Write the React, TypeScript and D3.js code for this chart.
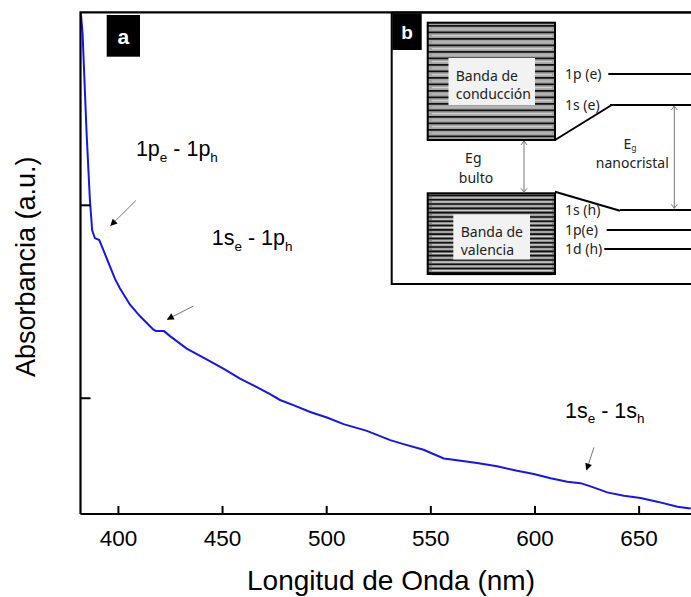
import React, { useEffect, useRef } from 'react';
import * as d3 from 'd3';

// absorption spectrum
const wavelength = [381.8, 382.8, 384.7, 386.3, 387.4, 388.7, 390.8, 392.7, 395.9, 398.3,
  400.7, 405.5, 410.3, 416.7, 418.0, 421.9, 424.8, 432.8, 440.8, 450.4,
  458.4, 464.8, 472.8, 477.6, 484.0, 492.1, 500.1, 508.1, 519.3, 530.5,
  536.9, 546.5, 556.2, 562.6, 572.2, 581.8, 591.4, 599.4, 607.5, 615.5,
  621.9, 626.7, 634.7, 642.7, 650.7, 658.7, 668.4, 674.8];
const absorbance = [3.02, 2.89, 2.38, 2.03, 1.87, 1.83, 1.82, 1.77, 1.685, 1.62,
  1.57, 1.486, 1.426, 1.357, 1.348, 1.348, 1.322, 1.257, 1.211, 1.154,
  1.102, 1.067, 1.021, 0.991, 0.964, 0.929, 0.900, 0.866, 0.831, 0.783,
  0.762, 0.733, 0.688, 0.679, 0.664, 0.647, 0.624, 0.607, 0.585, 0.567,
  0.560, 0.543, 0.512, 0.495, 0.483, 0.464, 0.438, 0.429];

const xTicks = [400, 450, 500, 550, 600, 650];
const yTicks = [1, 2];

// transition labels: [main, sub, main, sub]
const transitions = [
  { parts: ['1p', 'e', ' - 1p', 'h'], at: [408.4, 2.254], from: [408.4, 2.025], to: [396.3, 1.895] },
  { parts: ['1s', 'e', ' - 1p', 'h'], at: [444.8, 1.792], from: [436.0, 1.478], to: [423.5, 1.409] },
  { parts: ['1s', 'e', ' - 1s', 'h'], at: [614.4, 0.900], from: [628.3, 0.745], to: [624.8, 0.629] },
];

const levelsCB = ['1p (e)', '1s (e)'];
const levelsVB = ['1s (h)', '1p(e)', '1d (h)'];

const SANS = 'Liberation Sans, Arial, sans-serif';
const INSET = 'Noto Sans, Open Sans, sans-serif';

export default function App() {
  const ref = useRef<SVGSVGElement | null>(null);

  useEffect(() => {
    const svg = d3.select(ref.current);
    svg.selectAll('*').remove();

    const x = d3.scaleLinear().domain([381.8, 675]).range([80.5, 691.2]);
    const y = d3.scaleLinear().domain([0.4, 3]).range([514, 12.4]);

    svg.append('defs').append('clipPath').attr('id', 'plot')
      .append('rect').attr('x', 80).attr('y', 12.4).attr('width', 620).attr('height', 502);

    svg.append('defs').append('marker')
      .attr('id', 'head').attr('viewBox', '0 0 10 10').attr('refX', 9).attr('refY', 5)
      .attr('markerWidth', 9).attr('markerHeight', 7).attr('markerUnits', 'userSpaceOnUse')
      .attr('orient', 'auto')
      .append('path').attr('d', 'M0,0 L10,5 L0,10 z').attr('fill', '#000');

    const pts = wavelength.map((w, i) => [w, absorbance[i]] as [number, number]);
    const line = d3.line<[number, number]>().x(d => x(d[0])).y(d => y(d[1]));
    svg.append('path')
      .attr('d', line(pts))
      .attr('clip-path', 'url(#plot)')
      .attr('fill', 'none')
      .attr('stroke', '#1515f0')
      .attr('stroke-width', 2);

    // frame: left, bottom, top
    const axisY = 514;
    svg.append('path')
      .attr('d', `M${x(381.8)},${axisY} L${x(381.8)},12.4 L700,12.4 M${x(381.8)},${axisY} L700,${axisY}`)
      .attr('fill', 'none').attr('stroke', '#000').attr('stroke-width', 2.2);

    svg.append('g').selectAll('line').data(xTicks).enter().append('line')
      .attr('x1', d => x(d)).attr('x2', d => x(d))
      .attr('y1', axisY).attr('y2', axisY - 8)
      .attr('stroke', '#000').attr('stroke-width', 2);
    svg.append('g').selectAll('text').data(xTicks).enter().append('text')
      .attr('x', d => x(d)).attr('y', 545.5)
      .attr('text-anchor', 'middle')
      .attr('font-family', SANS).attr('font-size', 22.5)
      .text(d => d);

    svg.append('g').selectAll('line').data(yTicks).enter().append('line')
      .attr('x1', x(381.8)).attr('x2', x(381.8) + 10)
      .attr('y1', d => y(d)).attr('y2', d => y(d))
      .attr('stroke', '#000').attr('stroke-width', 2);

    svg.append('text')
      .attr('x', 391).attr('y', 590)
      .attr('text-anchor', 'middle')
      .attr('font-family', SANS).attr('font-size', 28)
      .text('Longitud de Onda (nm)');
    svg.append('text')
      .attr('transform', 'translate(35,266.7) rotate(-90)')
      .attr('text-anchor', 'middle')
      .attr('font-family', SANS).attr('font-size', 27)
      .text('Absorbancia (a.u.)');

    // panel label a
    svg.append('rect').attr('x', 106.7).attr('y', 15).attr('width', 33.3).attr('height', 41.7).attr('fill', '#000');
    svg.append('text').attr('x', 123.3).attr('y', 44).attr('text-anchor', 'middle')
      .attr('font-family', SANS).attr('font-weight', 'bold').attr('font-size', 21).attr('fill', '#fff').text('a');

    // transitions
    transitions.forEach(t => {
      const txt = svg.append('text')
        .attr('x', x(t.at[0])).attr('y', y(t.at[1]))
        .attr('font-family', SANS).attr('font-size', 21.5).attr('fill', '#000');
      txt.append('tspan').text(t.parts[0]);
      txt.append('tspan').attr('font-size', 13.5).attr('dy', 5.5).text(t.parts[1]);
      txt.append('tspan').attr('dy', -5.5).text(t.parts[2]);
      txt.append('tspan').attr('font-size', 13.5).attr('dy', 5.5).text(t.parts[3]);
      svg.append('line')
        .attr('x1', x(t.from[0])).attr('y1', y(t.from[1]))
        .attr('x2', x(t.to[0])).attr('y2', y(t.to[1]))
        .attr('stroke', '#777').attr('stroke-width', 1)
        .attr('marker-end', 'url(#head)');
    });

    // ---- inset b: band diagram ----
    const ins = svg.append('g');
    ins.append('rect').attr('x', 391.7).attr('y', 12.7).attr('width', 330).attr('height', 271.3)
      .attr('fill', '#fff').attr('stroke', '#000').attr('stroke-width', 2);
    ins.append('rect').attr('x', 392.3).attr('y', 13.3).attr('width', 29.4).attr('height', 36.7).attr('fill', '#000');
    ins.append('text').attr('x', 407).attr('y', 38.5).attr('text-anchor', 'middle')
      .attr('font-family', SANS).attr('font-weight', 'bold').attr('font-size', 19).attr('fill', '#fff').text('b');

    const band = (y0: number, y1: number, step: number, dark: boolean) => {
      const g = ins.append('g');
      g.append('rect').attr('x', 427.7).attr('y', y0).attr('width', 127.3).attr('height', y1 - y0)
        .attr('fill', dark ? '#8a8a8a' : '#a3a3a3');
      d3.range(y0 + step / 2, y1 - 1, step).forEach((yy, i) => {
        g.append('line').attr('x1', 428).attr('x2', 555).attr('y1', yy).attr('y2', yy)
          .attr('stroke', '#111').attr('stroke-width', dark ? 1.6 : 1.8);
        g.append('line').attr('x1', 432).attr('x2', 552).attr('y1', yy + step / 2).attr('y2', yy + step / 2)
          .attr('stroke', i % 2 ? '#d0d0d0' : '#bdbdbd').attr('stroke-width', 1.2);
      });
      g.append('rect').attr('x', 427.7).attr('y', y0).attr('width', 127.3).attr('height', y1 - y0)
        .attr('fill', 'none').attr('stroke', '#000').attr('stroke-width', 2);
    };
    band(22.7, 140, 6.5, false);
    band(193.3, 274, 4.3, true);

    ins.append('rect').attr('x', 448.5).attr('y', 58).attr('width', 86.5).attr('height', 47).attr('fill', '#f2f2f2');
    ins.append('rect').attr('x', 453.3).attr('y', 214.5).attr('width', 76.7).attr('height', 45).attr('fill', '#f2f2f2');

    const itxt = (tx: number, ty: number, s: string, anchor = 'start', fs = 14) =>
      ins.append('text').attr('x', tx).attr('y', ty).attr('text-anchor', anchor)
        .attr('font-family', INSET).attr('font-size', fs).attr('fill', '#222').text(s);

    itxt(455.7, 80.5, 'Banda de');
    itxt(455.7, 98.5, 'conducción');
    itxt(460.7, 236.5, 'Banda de');
    itxt(460.7, 255, 'valencia');

    const lv = (label: string, ly: number, ty: number, x0: number) => {
      itxt(565, ty, label);
      ins.append('line').attr('x1', x0).attr('x2', 700).attr('y1', ly).attr('y2', ly)
        .attr('stroke', '#000').attr('stroke-width', 2);
    };
    lv(levelsCB[0], 74, 79, 608.3);
    lv(levelsCB[1], 105, 110, 610);
    lv(levelsVB[0], 210, 215, 620);
    lv(levelsVB[1], 230, 235, 606.7);
    lv(levelsVB[2], 249, 254, 604.3);

    ins.append('line').attr('x1', 555).attr('y1', 140).attr('x2', 611.7).attr('y2', 105)
      .attr('stroke', '#000').attr('stroke-width', 2);
    ins.append('line').attr('x1', 555).attr('y1', 191.7).attr('x2', 620).attr('y2', 210.7)
      .attr('stroke', '#000').attr('stroke-width', 2);

    itxt(473.3, 163.3, 'Eg', 'middle');
    itxt(476, 182.5, 'bulto', 'middle');
    const eg = ins.append('text').attr('x', 630).attr('y', 148.5).attr('text-anchor', 'middle')
      .attr('font-family', INSET).attr('font-size', 14).attr('fill', '#222');
    eg.append('tspan').text('E');
    eg.append('tspan').attr('font-size', 8.5).attr('dy', 2.5).text('g');
    itxt(632.3, 168, 'nanocristal', 'middle');

    const dbl = (ax: number, a0: number, a1: number) => {
      ins.append('line').attr('x1', ax).attr('x2', ax).attr('y1', a0 + 1).attr('y2', a1 - 1)
        .attr('stroke', '#777').attr('stroke-width', 1);
      ins.append('path').attr('d', `M${ax - 3},${a0 + 5} L${ax},${a0 + 1} L${ax + 3},${a0 + 5} M${ax - 3},${a1 - 5} L${ax},${a1 - 1} L${ax + 3},${a1 - 5}`)
        .attr('fill', 'none').attr('stroke', '#777').attr('stroke-width', 1);
    };
    dbl(524, 140, 193.3);
    dbl(674.3, 105, 209.3);
  }, []);

  return (
    <svg ref={ref} width={691} height={597}
      style={{ position: 'absolute', left: 0, top: 0, background: '#fff' }} />
  );
}
